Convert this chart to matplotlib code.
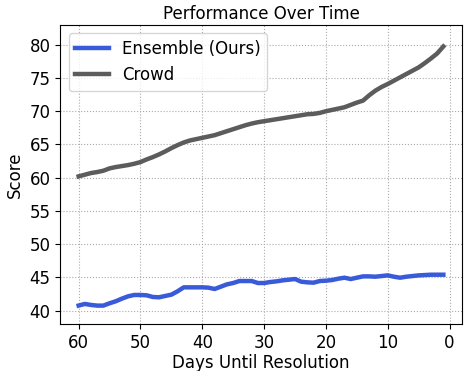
import matplotlib.pyplot as plt
import numpy as np

# days until resolution, 60 down to 1
days = np.arange(60, 0, -1)

ensemble = [40.76, 41.0, 40.85, 40.75, 40.75, 41.1, 41.4, 41.8, 42.15, 42.35,
            42.35, 42.3, 42.05, 42.0, 42.2, 42.4, 42.9, 43.5, 43.5, 43.5,
            43.5, 43.45, 43.25, 43.6, 43.95, 44.15, 44.45, 44.45, 44.45, 44.15,
            44.15, 44.3, 44.4, 44.55, 44.65, 44.75, 44.35, 44.25, 44.2, 44.45,
            44.5, 44.6, 44.8, 44.95, 44.75, 44.95, 45.15, 45.15, 45.1, 45.2,
            45.3, 45.1, 44.95, 45.1, 45.2, 45.3, 45.35, 45.4, 45.4, 45.4]

crowd = [60.2, 60.45, 60.7, 60.85, 61.05, 61.4, 61.6, 61.75, 61.9, 62.1,
         62.35, 62.75, 63.1, 63.5, 63.95, 64.45, 64.9, 65.3, 65.6, 65.8,
         66.0, 66.2, 66.4, 66.7, 67.0, 67.3, 67.6, 67.9, 68.15, 68.35,
         68.5, 68.65, 68.8, 68.95, 69.1, 69.25, 69.4, 69.55, 69.6, 69.75,
         70.0, 70.2, 70.4, 70.6, 70.95, 71.3, 71.6, 72.4, 73.1, 73.65,
         74.1, 74.6, 75.1, 75.6, 76.1, 76.6, 77.25, 77.95, 78.7, 79.75]

yticks = [40, 45, 50, 55, 60, 65, 70, 75, 80]
xticks = [60, 50, 40, 30, 20, 10, 0]

plt.rcParams['font.family'] = 'DejaVu Sans'
plt.rcParams['font.size'] = 12

fig = plt.figure(figsize=(4.72, 3.71), dpi=100)
ax = fig.add_axes([0.128, 0.127, 0.85, 0.806])

ax.plot(days, ensemble, color='#3a5bd9', lw=3.2, label='Ensemble (Ours)')
ax.plot(days, crowd, color='#5c5c5c', lw=3.2, label='Crowd')

ax.invert_xaxis()
ax.set_ylim(38, 83)
ax.set_xticks(xticks)
ax.set_yticks(yticks)
ax.grid(True, linestyle=':', color='#aaaaaa', linewidth=0.8)

ax.set_xlabel('Days Until Resolution', labelpad=1.5)
ax.set_ylabel('Score')
ax.set_title('Performance Over Time', fontsize=12, pad=4.5)
ax.legend(loc='upper left')

plt.savefig('out.png', dpi=100)
